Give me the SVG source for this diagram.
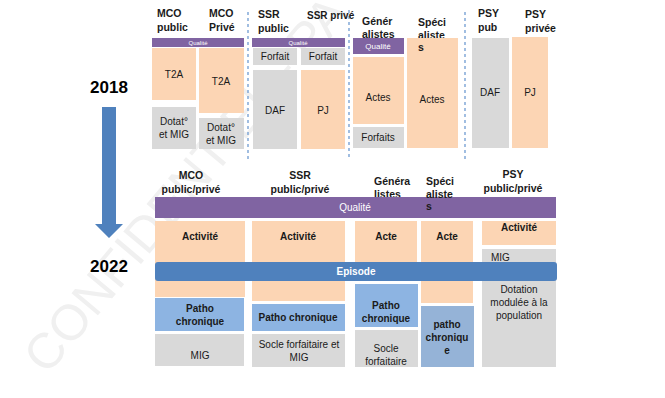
<svg xmlns="http://www.w3.org/2000/svg" width="665" height="398" viewBox="0 0 665 398">
<style>
text{font-family:"Liberation Sans",Arial,sans-serif;fill:#1a1a1a}
.h{font-size:10.5px;font-weight:bold}
.t{font-size:10px}
.tb{font-size:10px;font-weight:bold}
.c{text-anchor:middle}
.yr{font-size:17px;font-weight:bold;text-anchor:middle;fill:#000}
.pe{fill:#fcd5b4}
.gr{fill:#d9d9d9}
.pu{fill:#8064a2}
.bl{fill:#8db4e2}
.q{fill:#fff;text-anchor:middle}
.dash{stroke:#6f9bd1;stroke-width:1.3;stroke-dasharray:3 3;fill:none}
.wm{font-size:50px;fill:#f0f0f0;font-family:"Liberation Sans",Arial,sans-serif}
</style>
<rect width="665" height="398" fill="#fff"/>
<text class="wm" x="47" y="376" transform="rotate(-50 47 376)">CONFIDENTIEL - PA</text>

<g id="timeline">
<text class="yr" x="109" y="93">2018</text>
<polygon points="102,107 116,107 116,224 123,224 109,238 95,224 102,224" fill="#4f81bd"/>
<text class="yr" x="109" y="272">2022</text>
</g>

<g id="separators">
<line class="dash" x1="248" y1="12" x2="248" y2="160"/>
<line class="dash" x1="349" y1="10" x2="349" y2="160"/>
<line class="dash" x1="465" y1="12" x2="465" y2="160"/>
</g>

<!-- 2018 -->
<g id="h2018">
<text class="h" x="157" y="17">MCO</text><text class="h" x="157" y="31">public</text>
<text class="h" x="209" y="17">MCO</text><text class="h" x="209" y="31">Privé</text>
<text class="h" x="258" y="18">SSR</text><text class="h" x="258" y="32">public</text>
<text class="h" x="307" y="19" style="font-size:10px">SSR privé</text>
<text class="h" x="362" y="25">Génér</text><text class="h" x="362" y="38">alistes</text>
<text class="h" x="418" y="26">Spéci</text><text class="h" x="418" y="39">aliste</text>
<text class="h" x="478" y="17">PSY</text><text class="h" x="478" y="31">pub</text>
<text class="h" x="525" y="18">PSY</text><text class="h" x="525" y="32">privée</text>
</g>

<g id="mco2018">
<rect class="pu" x="152" y="38" width="92" height="9"/>
<text class="q" x="198" y="45" style="font-size:6px">Qualité</text>
<rect class="pe" x="152" y="48" width="44" height="52"/>
<text class="t c" x="174" y="78">T2A</text>
<rect class="gr" x="152" y="107" width="44" height="42"/>
<text class="t c" x="174" y="125">Dotat°</text><text class="t c" x="174" y="138">et MIG</text>
<rect class="pe" x="199" y="48" width="45" height="65"/>
<text class="t c" x="221" y="85">T2A</text>
<rect class="gr" x="199" y="118" width="45" height="31"/>
<text class="t c" x="221" y="131">Dotat°</text><text class="t c" x="221" y="144">et MIG</text>
</g>

<g id="ssr2018">
<rect class="pu" x="252" y="38" width="93" height="9"/>
<text class="q" x="298" y="45" style="font-size:6px">Qualité</text>
<rect class="gr" x="253" y="48" width="44" height="17"/>
<text class="t c" x="275" y="60">Forfait</text>
<rect class="gr" x="301" y="48" width="44" height="17"/>
<text class="t c" x="323" y="60">Forfait</text>
<rect class="gr" x="253" y="70" width="44" height="79"/>
<text class="t c" x="275" y="114">DAF</text>
<rect class="pe" x="301" y="70" width="44" height="79"/>
<text class="t c" x="323" y="114">PJ</text>
</g>

<g id="lib2018">
<rect class="pu" x="353" y="38" width="51" height="16"/>
<text class="q" x="378" y="49" style="font-size:8px">Qualité</text>
<rect class="pe" x="353" y="57" width="51" height="67"/>
<text class="t c" x="378" y="101">Actes</text>
<rect class="gr" x="353" y="127" width="51" height="21"/>
<text class="t c" x="378" y="141">Forfaits</text>
<rect class="pe" x="407" y="38" width="51" height="110"/>
<text class="t c" x="432" y="103">Actes</text>
<text class="h" x="418" y="51">s</text>
</g>

<g id="psy2018">
<rect class="gr" x="472" y="38" width="37" height="110"/>
<text class="t c" x="490" y="96">DAF</text>
<rect class="pe" x="512" y="37" width="36" height="111"/>
<text class="t c" x="530" y="96">PJ</text>
</g>

<!-- 2022 -->
<g id="h2022">
<text class="h c" x="191" y="179">MCO</text><text class="h c" x="191" y="193">public/privé</text>
<text class="h c" x="300" y="179">SSR</text><text class="h c" x="300" y="193">public/privé</text>
<text class="h" x="374" y="185">Généra</text><text class="h" x="374" y="198">listes</text>
<text class="h c" x="513" y="178">PSY</text><text class="h c" x="513" y="192">public/privé</text>
</g>

<g id="activite2022">
<rect class="pe" x="155" y="221" width="90" height="76"/>
<text class="tb c" x="200" y="240">Activité</text>
<rect class="pe" x="252" y="221" width="93" height="80"/>
<text class="tb c" x="298" y="240">Activité</text>
<rect class="pe" x="355" y="221" width="62" height="60"/>
<text class="tb c" x="386" y="240">Acte</text>
<rect class="pe" x="421" y="221" width="52" height="82"/>
<text class="tb c" x="447" y="240">Acte</text>
<rect class="pe" x="482" y="221" width="74" height="24"/>
<text class="tb c" x="519" y="231">Activité</text>
</g>

<g id="psy2022">
<rect class="gr" x="482" y="249" width="74" height="118"/>
<text class="t" x="491" y="261">MIG</text>
<text class="t c" x="519" y="293">Dotation</text>
<text class="t c" x="519" y="306">modulée à la</text>
<text class="t c" x="519" y="319">population</text>
</g>

<g id="qualite2022">
<rect class="pu" x="155" y="197" width="401" height="21"/>
<text class="q" x="355" y="211" style="font-size:10px">Qualité</text>
<text class="h" x="426" y="185">Spéci</text><text class="h" x="426" y="198">aliste</text><text class="h" x="426" y="210">s</text>
</g>

<g id="episode2022">
<rect x="155" y="262" width="402" height="19" rx="3" fill="#4f81bd"/>
<text class="q" x="356" y="275" style="font-size:10px;font-weight:bold">Episode</text>
</g>

<g id="mco2022">
<rect class="bl" x="155" y="298" width="89" height="33"/>
<text class="tb c" x="200" y="312">Patho</text><text class="tb c" x="200" y="325">chronique</text>
<rect class="gr" x="155" y="334" width="89" height="32"/>
<text class="t c" x="200" y="359">MIG</text>
</g>

<g id="ssr2022">
<rect class="bl" x="252" y="304" width="93" height="27"/>
<text class="tb c" x="298" y="321">Patho chronique</text>
<rect class="gr" x="252" y="334" width="93" height="33"/>
<text class="t c" x="299" y="348">Socle forfaitaire et</text><text class="t c" x="299" y="361">MIG</text>
</g>

<g id="lib2022">
<rect class="bl" x="355" y="284" width="63" height="43"/>
<text class="tb c" x="386" y="309">Patho</text><text class="tb c" x="386" y="322">chronique</text>
<rect class="gr" x="355" y="330" width="63" height="37"/>
<text class="t c" x="386" y="352">Socle</text><text class="t c" x="386" y="365">forfaitaire</text>
<rect x="421" y="306" width="53" height="61" fill="#95b3d7"/>
<text class="tb c" x="447" y="328">patho</text><text class="tb c" x="447" y="341">chroniqu</text><text class="tb c" x="447" y="354">e</text>
</g>
</svg>
